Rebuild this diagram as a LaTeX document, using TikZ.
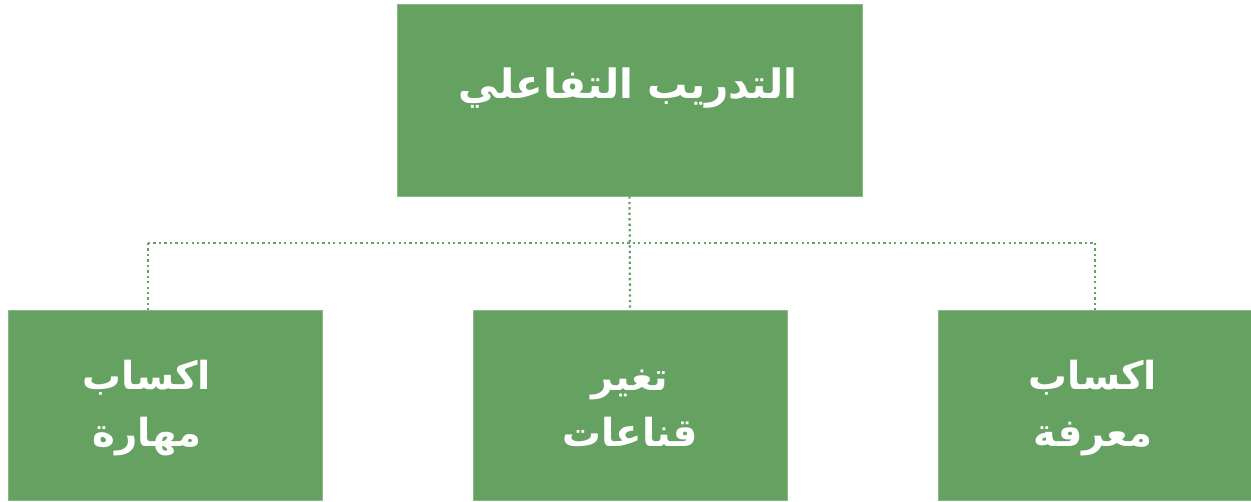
\documentclass[tikz,border=0pt]{standalone}
\usepackage{fontspec}
\newfontfamily\arabicfont[Script=Arabic]{DejaVu Sans}
\TeXXeTstate=1
\definecolor{boxgreen}{RGB}{101,161,96}

\begin{document}
\begin{tikzpicture}[x=0.02cm,y=-0.02cm,
		box/.style={fill=boxgreen,draw=boxgreen!75!white,line width=0.4pt,inner sep=0pt},
		link/.style={draw=boxgreen,line width=1.3pt,dash pattern=on 1.3pt off 1.8pt},
		lbl/.style={text=white,align=center,font=\arabicfont\bfseries\fontsize{22}{32}\selectfont}]
		\useasboundingbox (0,0) rectangle (1251,501);
		% boxes
		\node[box,minimum width=9.3cm,minimum height=3.84cm] (top) at (629.5,100) {};
		\node[box,minimum width=6.28cm,minimum height=3.8cm] (left) at (165,405) {};
		\node[box,minimum width=6.28cm,minimum height=3.8cm] (mid) at (630,405) {};
		\node[box,minimum width=6.28cm,minimum height=3.8cm] (right) at (1095,405) {};
		% texts
		\node[lbl,font=\arabicfont\bfseries\fontsize{23}{31}\selectfont] (ttop) at (628,88) {\beginR التدريب التفاعلي\endR};
		\node[lbl] (tleft) at (147,408) {\beginR اكساب\endR\\\beginR مهارة\endR};
		\node[lbl] (tmid) at (630,408) {\beginR تغير\endR\\\beginR قناعات\endR};
		\node[lbl] (tright) at (1093,408) {\beginR اكساب\endR\\\beginR معرفة\endR};
		% dotted links
		\coordinate (busl) at (148,243);
		\coordinate (busr) at (1095,243);
		\draw[link] (top.south) -- (mid.north);
		\draw[link] (busl) -- (busr);
		\draw[link] (busl) -- (busl |- left.north);
		\draw[link] (busr) -- (right.north);
	\end{tikzpicture}
\end{document}
